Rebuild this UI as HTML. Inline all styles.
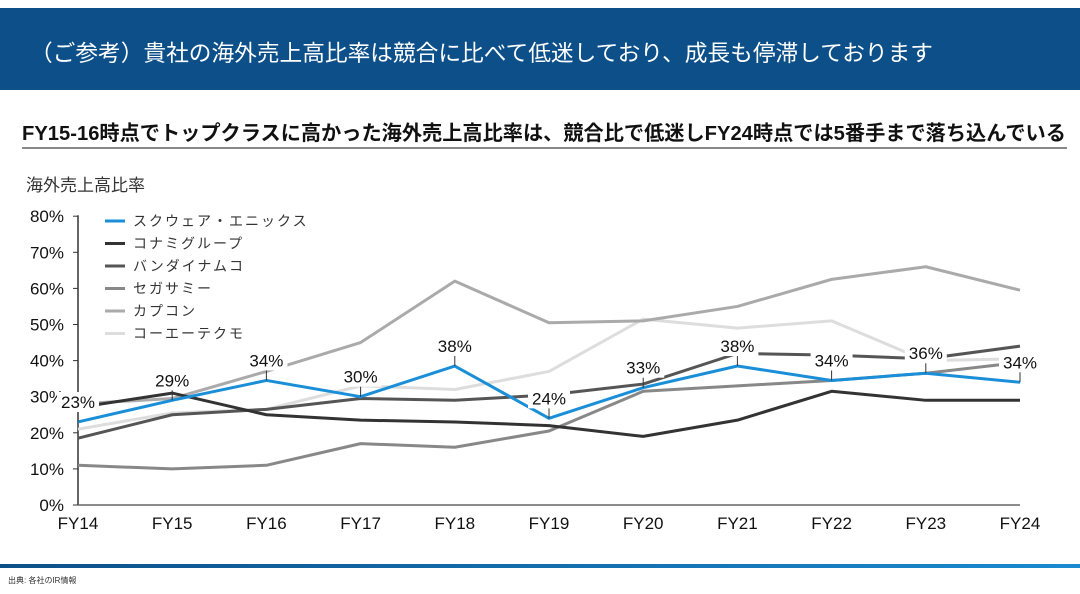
<!DOCTYPE html>
<html><head><meta charset="utf-8"><style>
body{margin:0;width:1080px;height:594px;background:#fff;font-family:"Liberation Sans","Noto Sans CJK JP",sans-serif;overflow:hidden;position:relative}
.hdr{position:absolute;left:0;top:8px;width:1080px;height:82px;background:#0d5089}
.hdr div{position:absolute;left:30px;top:27px;color:#fff;font-size:22.7px;white-space:nowrap}
.sub{position:absolute;left:22px;top:117px;font-size:20.2px;font-weight:bold;color:#111;white-space:nowrap}
.rule{position:absolute;left:22px;top:147px;width:1045px;height:2px;background:#888}
.yt{position:absolute;left:26px;top:171px;font-size:17px;color:#333}
.foot{position:absolute;left:0;top:564px;width:1080px;height:4px;background:linear-gradient(90deg,#0d5089,#1a8ad0)}
.src{position:absolute;left:8px;top:575px;font-size:8px;color:#333}
svg{position:absolute;left:0;top:0}
</style></head><body>
<div class="hdr"><div>（ご参考）貴社の海外売上高比率は競合に比べて低迷しており、成長も停滞しております</div></div>
<div class="sub">FY15-16時点でトップクラスに高かった海外売上高比率は、競合比で低迷しFY24時点では5番手まで落ち込んでいる</div>
<div class="rule"></div>
<div class="yt">海外売上高比率</div>
<svg id="c" width="1080" height="594"></svg>
<div class="foot"></div>
<div class="src">出典: 各社のIR情報</div>
<script>
const categories=["FY14","FY15","FY16","FY17","FY18","FY19","FY20","FY21","FY22","FY23","FY24"];
const yTicks=[0,10,20,30,40,50,60,70,80];
const seriesNames=["スクウェア・エニックス","コナミグループ","バンダイナムコ","セガサミー","カプコン","コーエーテクモ"];
const squareEnix=[23,29,34.5,30,38.5,24,32.5,38.5,34.5,36.5,34];
const konami=[27,31,25,23.5,23,22,19,23.5,31.5,29,29];
const bandaiNamco=[18.5,25,26.5,29.5,29,30.5,33.5,42,41.5,40.5,44];
const segaSammy=[11,10,11,17,16,20.5,31.5,33,34.5,36.5,39.5];
const capcom=[28,29.5,37,45,62,50.5,51,55,62.5,66,59.5];
const koeiTecmo=[21,25.5,26.5,33,32,37,51.5,49,51,40,40.5];
const labels=["23%","29%","34%","30%","38%","24%","33%","38%","34%","36%","34%"];
const colors=["#1a8fd8","#333333","#555555","#888888","#aaaaaa","#dddddd"];
const svg=document.getElementById('c');const NS="http://www.w3.org/2000/svg";
const x=i=>78+i*94.2, y=v=>505-v*3.61;
function mk(t,a,p){const e=document.createElementNS(NS,t);for(const k in a)e.setAttribute(k,a[k]);(p||svg).appendChild(e);return e;}
yTicks.forEach(t=>{const e=mk('text',{x:64,y:y(t)+6,'text-anchor':'end','font-size':17,fill:'#111'});e.textContent=t+'%';


mk('line',{x1:73,x2:78,y1:y(t),y2:y(t),stroke:'#333'});});
categories.forEach((c,i)=>{const e=mk('text',{x:x(i),y:529,'text-anchor':'middle','font-size':17,fill:'#111'});e.textContent=c;

});
mk('line',{x1:78,x2:78,y1:y(80)-1,y2:y(0),stroke:'#333','stroke-width':1.5});
mk('line',{x1:78,x2:1020,y1:y(0),y2:y(0),stroke:'#666','stroke-width':1.5});
const all=[squareEnix,konami,bandaiNamco,segaSammy,capcom,koeiTecmo];
for(let s=all.length-1;s>=0;s--){const p=mk('polyline',{points:all[s].map((v,i)=>x(i)+','+y(v)).join(' '),fill:'none',stroke:colors[s],'stroke-width':3,'stroke-linejoin':'round'});

}
squareEnix.forEach((v,i)=>{const ly=y(v)-14;
const r=mk('rect',{x:x(i)-21,y:ly-16,width:42,height:20,fill:'#fff'});


mk('line',{x1:x(i),x2:x(i),y1:ly+4,y2:y(v),stroke:'#333'});
const t=mk('text',{x:x(i),y:ly,'text-anchor':'middle','font-size':17,fill:'#111'});t.textContent=labels[i];

});
seriesNames.forEach((n,s)=>{const yy=221+s*22.5;
const g=mk('g',{});


mk('line',{x1:105,x2:125,y1:yy,y2:yy,stroke:colors[s],'stroke-width':3},g);
const t=mk('text',{x:133,y:yy+5,'font-size':14,fill:'#333','letter-spacing':'2'},g);t.textContent=n;});
</script>
</body></html>
